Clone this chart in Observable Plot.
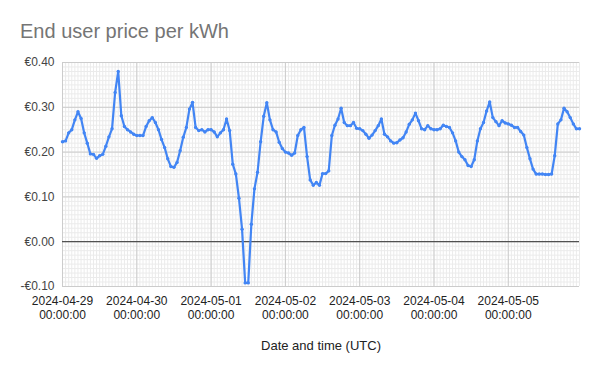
<!DOCTYPE html>
<html>
<head>
<meta charset="utf-8">
<script src="https://cdn.jsdelivr.net/npm/d3@7"></script>
<script src="https://cdn.jsdelivr.net/npm/@observablehq/plot@0.6"></script>
<style>
  html, body { margin: 0; padding: 0; background: #fff; }
  #wrap { width: 600px; height: 371px; position: relative; overflow: hidden; }
  #title { height: 40px; box-sizing: border-box; padding-left: 20px; padding-top: 21px;
           font-family: "Liberation Sans", Arial, sans-serif; font-size: 20px; color: #757575; line-height: 20px; }
  svg { display: block; }
</style>
</head>
<body>
<div id="wrap">
  <div id="title">End user price per kWh</div>
  <div id="chart"></div>
</div>
<script>
// Day labels (one series of 24 hourly values per day, UTC)
const days = ["2024-04-29", "2024-04-30", "2024-05-01", "2024-05-02", "2024-05-03", "2024-05-04", "2024-05-05"];

const apr29 = [0.223, 0.225, 0.243, 0.25, 0.272, 0.29, 0.275, 0.243, 0.22, 0.196, 0.195, 0.186, 0.192, 0.195, 0.213, 0.234, 0.252, 0.333, 0.38, 0.281, 0.257, 0.25, 0.245, 0.24];
const apr30 = [0.237, 0.237, 0.237, 0.257, 0.27, 0.277, 0.266, 0.25, 0.228, 0.21, 0.185, 0.168, 0.166, 0.177, 0.203, 0.233, 0.255, 0.296, 0.311, 0.255, 0.248, 0.25, 0.245, 0.25];
const may01 = [0.25, 0.245, 0.234, 0.243, 0.25, 0.274, 0.248, 0.173, 0.151, 0.097, 0.028, -0.092, -0.092, 0.039, 0.118, 0.155, 0.223, 0.28, 0.31, 0.272, 0.25, 0.245, 0.222, 0.208];
const may02 = [0.2, 0.198, 0.193, 0.198, 0.237, 0.25, 0.255, 0.19, 0.138, 0.126, 0.132, 0.126, 0.152, 0.152, 0.158, 0.237, 0.26, 0.274, 0.298, 0.266, 0.259, 0.259, 0.266, 0.253];
const may03 = [0.252, 0.248, 0.24, 0.231, 0.238, 0.248, 0.259, 0.274, 0.24, 0.234, 0.225, 0.22, 0.221, 0.227, 0.232, 0.245, 0.262, 0.272, 0.287, 0.27, 0.252, 0.25, 0.259, 0.252];
const may04 = [0.25, 0.25, 0.252, 0.26, 0.257, 0.255, 0.243, 0.225, 0.2, 0.19, 0.183, 0.17, 0.168, 0.183, 0.225, 0.252, 0.266, 0.292, 0.312, 0.277, 0.268, 0.259, 0.27, 0.265];
const may05 = [0.263, 0.26, 0.255, 0.255, 0.246, 0.238, 0.21, 0.185, 0.162, 0.151, 0.151, 0.151, 0.15, 0.15, 0.151, 0.192, 0.263, 0.272, 0.298, 0.29, 0.277, 0.263, 0.252, 0.252];

const yTicks = [-0.1, 0, 0.1, 0.2, 0.3, 0.4];
const titleText = "End user price per kWh";
const xLabel = "Date and time (UTC)";

const series = [apr29, apr30, may01, may02, may03, may04, may05];
const data = [];
series.forEach((vals, di) => {
  const d0 = new Date(days[di] + "T00:00:00Z");
  vals.forEach((v, h) => data.push({time: new Date(+d0 + h * 3600e3), price: v}));
});

const dayTicks = days.map(d => new Date(d + "T00:00:00Z"));
const t0 = data[0].time, t1 = data[data.length - 1].time;
const hourGrid = d3.utcHours(t0, new Date(+t1 + 1));
const yMinor = d3.range(-10, 41).map(i => i / 100);

const fmtDay = d3.utcFormat("%Y-%m-%d");
const fmtTime = d3.utcFormat("%H:%M:%S");
const fmtEuro = d => (d < 0 ? "-" : "") + "€" + Math.abs(d).toFixed(2);

const chart = Plot.plot({
  width: 600,
  height: 331,
  marginTop: 22,
  marginBottom: 85,
  marginLeft: 62,
  marginRight: 21,
  style: {fontFamily: "'Liberation Sans', Arial, sans-serif", background: "#fff"},
  x: {type: "utc", domain: [t0, t1]},
  y: {domain: [-0.1, 0.4]},
  marks: [
    Plot.gridX(hourGrid, {stroke: "#ebebeb", strokeOpacity: 1, strokeWidth: 1}),
    Plot.gridY(yMinor, {stroke: "#ebebeb", strokeOpacity: 1, strokeWidth: 1}),
    Plot.gridX(dayTicks, {stroke: "#cccccc", strokeOpacity: 1, strokeWidth: 1}),
    Plot.gridY(yTicks, {stroke: "#cccccc", strokeOpacity: 1, strokeWidth: 1}),
    Plot.ruleY([0], {stroke: "#333333", strokeWidth: 1}),
    Plot.axisY(yTicks, {tickSize: 0, tickPadding: 8, tickFormat: fmtEuro, fontSize: 12, fill: "#444", label: null}),
    Plot.axisX(dayTicks, {tickSize: 0, tickPadding: 9, tickFormat: d => fmtDay(d) + "\n" + fmtTime(d), fontSize: 12, lineHeight: 1.15, fill: "#222", label: null}),
    Plot.line(data, {x: "time", y: "price", stroke: "#4285f4", strokeWidth: 2.2}),
    Plot.dot(data, {x: "time", y: "price", r: 1.7, fill: "#4285f4", stroke: null}),
    Plot.text([xLabel], {frameAnchor: "bottom", dy: 59, text: d => d, fontSize: 13, fill: "#222", textAnchor: "middle", lineAnchor: "middle"})
  ]
});
document.getElementById("chart").appendChild(chart);
</script>
</body>
</html>
